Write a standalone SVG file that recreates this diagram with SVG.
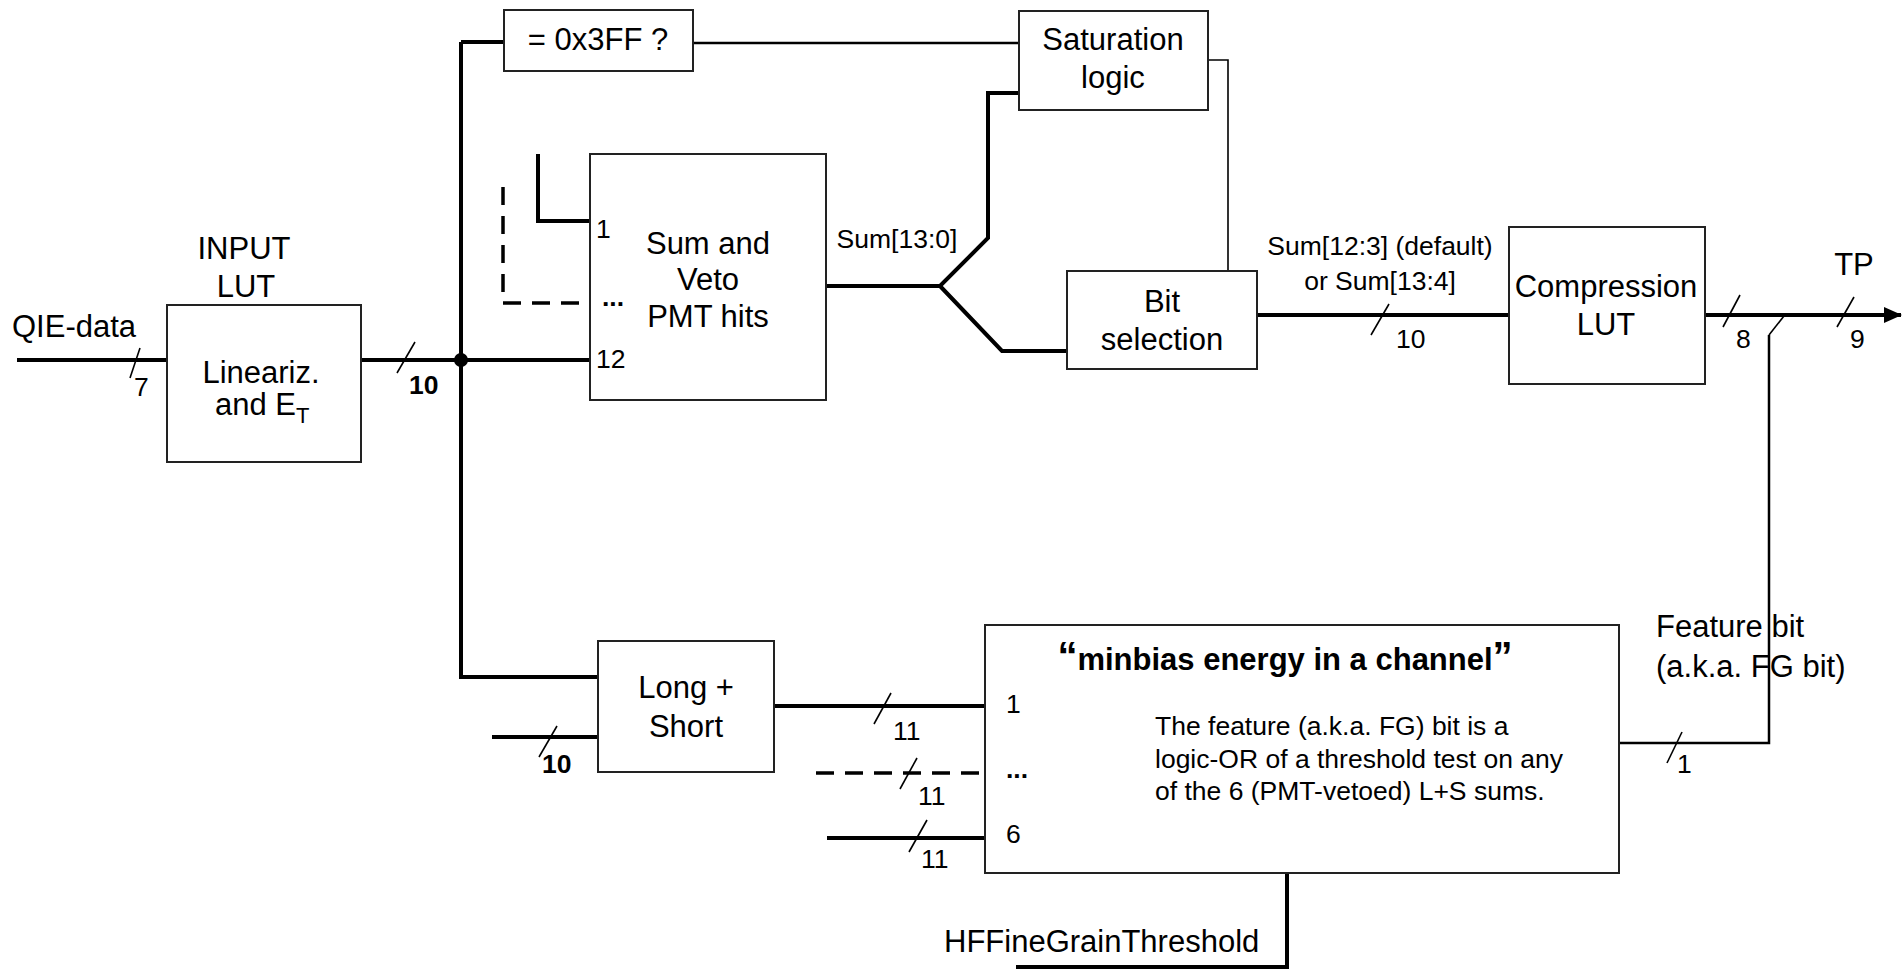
<svg xmlns="http://www.w3.org/2000/svg" width="1904" height="969" viewBox="0 0 1904 969">
<defs>
<style>
.box{fill:#fff;stroke:#222;stroke-width:2}
.t{font-family:"Liberation Sans",Arial,sans-serif;font-size:31px;fill:#000}
.s{font-family:"Liberation Sans",Arial,sans-serif;font-size:26.5px;fill:#000}
.b{font-weight:bold}
.thick{fill:none;stroke:#000;stroke-width:4}
.med{fill:none;stroke:#000;stroke-width:2.5}
.thin{fill:none;stroke:#000;stroke-width:1.6}
.dash{fill:none;stroke:#000;stroke-width:3.5;stroke-dasharray:18 11}
.mid{text-anchor:middle}
</style>
<marker id="arr" markerWidth="18" markerHeight="16" refX="17" refY="8" orient="auto" markerUnits="userSpaceOnUse">
<path d="M0,0 L18,8 L0,16 Z" fill="#000"/>
</marker>
</defs>
<rect width="1904" height="969" fill="#fff"/>

<g id="connectors">
<path class="thick" d="M17,360 H167"/>
<path class="thin" d="M130,378 L140,348"/>
<path class="thick" d="M361,360 H590"/>
<path class="thin" d="M397,373 L415,342"/>
<path class="thick" d="M461,42 V677 H598"/>
<path class="thick" d="M461,42 H504"/>
<path class="med" d="M693,43 H1019"/>
<path class="thin" d="M1208,60 H1228 V271"/>
<path class="thick" d="M538,154 V221 H590"/>
<path class="dash" d="M503,187 V303 H590"/>
<path class="thick" d="M826,286 H940 L988,238 V93 H1019"/>
<path class="thick" d="M940,286 L1002,351 H1067"/>
<path class="thick" d="M1257,315 H1509"/>
<path class="thin" d="M1371,335 L1389,304"/>
<path class="thick" d="M1705,315 H1901" marker-end="url(#arr)"/>
<path class="thin" d="M1723,327 L1740,295"/>
<path class="thin" d="M1837,327 L1854,297"/>
<path class="thin" d="M1769,335 L1784,316"/>
<path class="med" d="M1619,743 H1769 V335"/>
<path class="thin" d="M1667,763 L1682,732"/>
<path class="thick" d="M492,737 H598"/>
<path class="thin" d="M539,757 L557,726"/>
<path class="thick" d="M774,706 H985"/>
<path class="thin" d="M874,724 L891,693"/>
<path class="dash" d="M816,773 H985"/>
<path class="thin" d="M900,789 L917,758"/>
<path class="thick" d="M827,838 H985"/>
<path class="thin" d="M909,852 L927,820"/>
<path class="thick" d="M1016,967 H1287 V873"/>
<circle cx="461" cy="360" r="7" fill="#000"/>
</g>

<g id="labels">
<text class="t" x="12" y="337">QIE-data</text>
<text class="s" x="134" y="396">7</text>
<text class="s b" x="409" y="394">10</text>
<text class="s" x="897" y="248" text-anchor="middle">Sum[13:0]</text>
<text class="s" x="1380" y="255" text-anchor="middle">Sum[12:3] (default)</text>
<text class="s" x="1380" y="290" text-anchor="middle">or  Sum[13:4]</text>
<text class="s" x="1396" y="348">10</text>
<text class="s" x="1736" y="348">8</text>
<text class="s" x="1850" y="348">9</text>
<text class="t" x="1854" y="275" text-anchor="middle">TP</text>
<text class="t" x="1656" y="637">Feature bit</text>
<text class="t" x="1656" y="677">(a.k.a. FG bit)</text>
<text class="s" x="1677" y="773">1</text>
<text class="s b" x="542" y="773">10</text>
<text class="s" x="893" y="740">11</text>
<text class="s" x="918" y="805">11</text>
<text class="s" x="921" y="868">11</text>
<text class="t" x="944" y="952">HFFineGrainThreshold</text>
</g>

<g id="input-lut">
<text class="t mid" x="244" y="259">INPUT</text>
<text class="t mid" x="246" y="297">LUT</text>
<rect class="box" x="167" y="305" width="194" height="157"/>
<text class="t mid" x="261" y="383">Lineariz.</text>
<text class="t" x="215" y="415">and E<tspan font-size="22" dy="8">T</tspan></text>
</g>

<g id="eq-3ff">
<rect class="box" x="504" y="10" width="189" height="61"/>
<text class="t mid" x="598" y="50">= 0x3FF ?</text>
</g>

<g id="saturation">
<rect class="box" x="1019" y="11" width="189" height="99"/>
<text class="t mid" x="1113" y="50">Saturation</text>
<text class="t mid" x="1113" y="88">logic</text>
</g>

<g id="sum-veto">
<rect class="box" x="590" y="154" width="236" height="246"/>
<text class="s" x="596" y="238">1</text>
<text class="s b" x="602" y="306">...</text>
<text class="s" x="596" y="368">12</text>
<text class="t mid" x="708" y="254">Sum and</text>
<text class="t mid" x="708" y="290">Veto</text>
<text class="t mid" x="708" y="327">PMT hits</text>
</g>

<g id="bit-selection">
<rect class="box" x="1067" y="271" width="190" height="98"/>
<text class="t mid" x="1162" y="312">Bit</text>
<text class="t mid" x="1162" y="350">selection</text>
</g>

<g id="compression-lut">
<rect class="box" x="1509" y="227" width="196" height="157"/>
<text class="t mid" x="1606" y="297">Compression</text>
<text class="t mid" x="1606" y="335">LUT</text>
</g>

<g id="long-short">
<rect class="box" x="598" y="641" width="176" height="131"/>
<text class="t mid" x="686" y="698">Long +</text>
<text class="t mid" x="686" y="737">Short</text>
</g>

<g id="minbias">
<rect class="box" x="985" y="625" width="634" height="248"/>
<text class="t b mid" x="1285" y="670" font-size="30.5"><tspan font-size="40">“</tspan>minbias energy in a channel<tspan font-size="40">”</tspan></text>
<text class="s" x="1155" y="735" font-size="27">The feature (a.k.a. FG) bit is a</text>
<text class="s" x="1155" y="768" font-size="27">logic-OR of a threshold test on any</text>
<text class="s" x="1155" y="800" font-size="27">of the 6 (PMT-vetoed) L+S sums.</text>
<text class="s" x="1006" y="713">1</text>
<text class="s b" x="1006" y="778">...</text>
<text class="s" x="1006" y="843">6</text>
</g>
</svg>
